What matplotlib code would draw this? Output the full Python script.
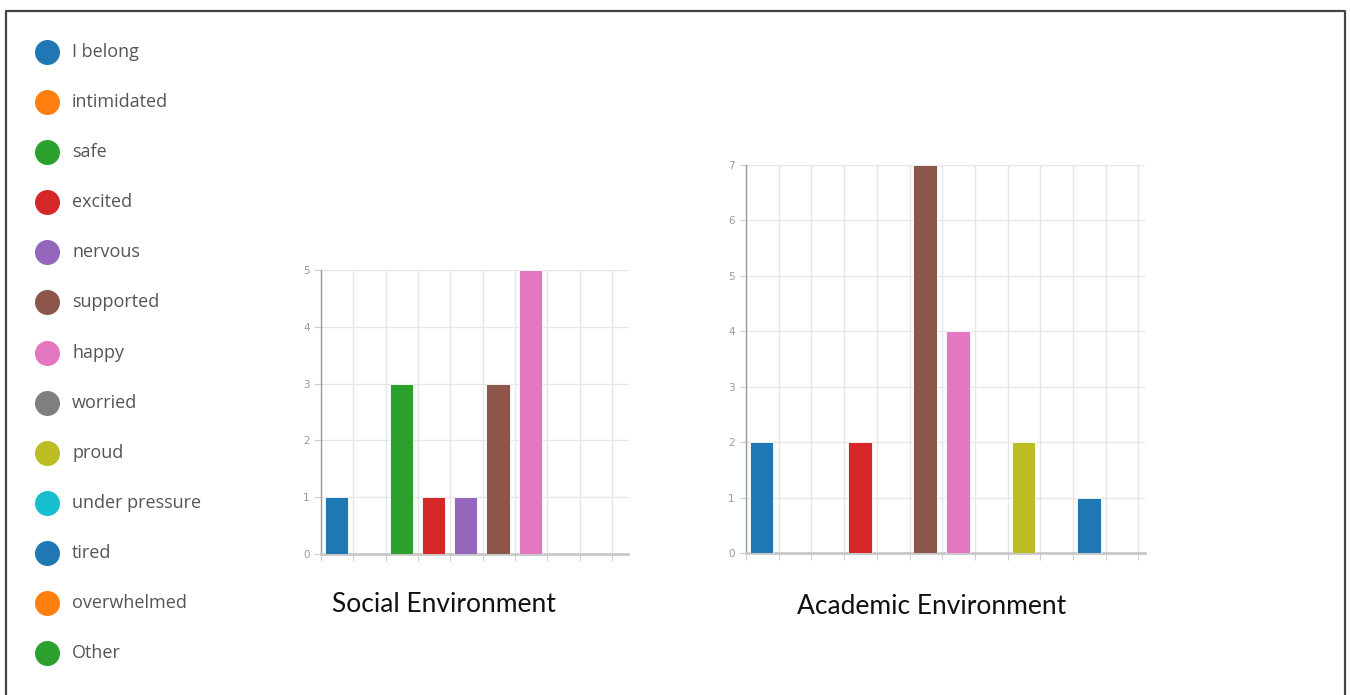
import numpy as np
import matplotlib.pyplot as plt
from matplotlib.lines import Line2D

# Categories and colours (colour cycle repeats after ten)
categories = ["I belong", "intimidated", "safe", "excited", "nervous", "supported",
              "happy", "worried", "proud", "under pressure", "tired", "overwhelmed", "Other"]
colors = ["#1f77b4", "#ff7f0e", "#2ca02c", "#d62728", "#9467bd", "#8c564b",
          "#e377c2", "#7f7f7f", "#bcbd22", "#17becf", "#1f77b4", "#ff7f0e", "#2ca02c"]

# Counts per category
social = [1, 0, 3, 1, 1, 3, 5, 0, 0]
academic = [2, 0, 0, 2, 0, 7, 4, 0, 2, 0, 1, 0]

W, H = 1351, 695
fig = plt.figure(figsize=(W / 100, H / 100), dpi=100)


def px_axes(x0, y0, x1, y1):
    return fig.add_axes([x0 / W, 1 - y1 / H, (x1 - x0) / W, (y1 - y0) / H])


def bar_panel(ax, counts, xmax, ymax):
    x = np.arange(len(counts))
    ax.bar(x + 0.12, counts, width=0.72, align="edge",
           color=colors[:len(counts)], edgecolor="white", linewidth=0.6, zorder=3)
    ax.set_xlim(0, xmax)
    ax.set_ylim(0, ymax)
    ax.set_xticks(np.arange(0, int(xmax) + 1))
    ax.set_xticklabels([])
    ax.set_yticks(np.arange(0, ymax + 1))
    ax.grid(True, color="#e6e6e6", linewidth=1.0, zorder=0)
    for s in ["top", "right"]:
        ax.spines[s].set_visible(False)
    ax.spines["left"].set_color("#9a9a9a")
    ax.spines["left"].set_linewidth(1.0)
    ax.spines["bottom"].set_color("#c8c8c8")
    ax.spines["bottom"].set_linewidth(2.0)
    ax.tick_params(axis="y", length=5, width=0.8, color="#d0d0d0",
                   labelsize=7.5, labelcolor="#999999", pad=3)
    ax.tick_params(axis="x", length=5, width=0.8, color="#d0d0d0")


ax1 = px_axes(321, 270, 628, 554)
bar_panel(ax1, social, 9.5, 5)
ax2 = px_axes(746, 165, 1145, 553)
bar_panel(ax2, academic, 12.2, 7)

fig.text(444 / W, 1 - 604 / H, "Social Environment", ha="center", va="center",
         fontsize=19, family="Lato", color="#111111")
fig.text(932 / W, 1 - 606 / H, "Academic Environment", ha="center", va="center",
         fontsize=19, family="Lato", color="#111111")

# Legend column on the left
for i, (name, c) in enumerate(zip(categories, colors)):
    y = 1 - (52 + 50.1 * i) / H
    fig.add_artist(Line2D([47 / W], [y], marker="o", markersize=18,
                          color=c, markeredgewidth=0, transform=fig.transFigure))
    fig.text(72 / W, y, name, ha="left", va="center", fontsize=13,
             family="Open Sans", color="#555555")

# Frame around the whole figure (open at the bottom)
fig.add_artist(Line2D([6 / W, 6 / W, 1345 / W, 1345 / W],
                      [0, 1 - 10.5 / H, 1 - 10.5 / H, 0],
                      color="#444444", linewidth=1.6, transform=fig.transFigure))

fig.savefig("out.png", dpi=100)
